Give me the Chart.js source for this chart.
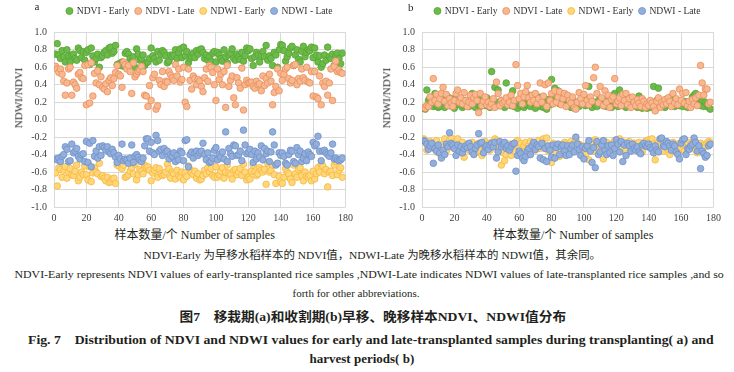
<!DOCTYPE html>
<html>
<head>
<meta charset="utf-8">
<script src="https://cdn.jsdelivr.net/npm/chart.js@4.4.1/dist/chart.umd.min.js"></script>
<style>
  body { margin: 0; background: #fff; width: 734px; height: 372px; position: relative; overflow: hidden; }
  canvas { position: absolute; top: 0; }
  .txt { position: absolute; white-space: nowrap; color: #231f20; line-height: 1; }
</style>
</head>
<body>
<canvas id="chartA" width="358" height="225" style="left:0px"></canvas>
<canvas id="chartB" width="358" height="225" style="left:368px"></canvas>
<script>
// series labels and axis ticks
const seriesNames = ["NDVI - Early", "NDVI - Late", "NDWI - Early", "NDWI - Late"];
const yTicks = [-1.0, -0.8, -0.6, -0.4, -0.2, 0.0, 0.2, 0.4, 0.6, 0.8, 1.0];
const xTicks = [0, 20, 40, 60, 80, 100, 120, 140, 160, 180];

// (a) transplanting period
const aNdviEarly = [
  0.75,0.87,0.74,0.70,0.79,0.72,0.66,0.80,0.73,0.66,
  0.74,0.75,0.70,0.68,0.82,0.79,0.71,0.78,0.68,0.77,
  0.80,0.63,0.82,0.73,0.66,0.70,0.75,0.60,0.71,0.73,
  0.77,0.79,0.74,0.82,0.83,0.76,0.78,0.85,0.63,0.64,
  0.62,0.66,0.61,0.76,0.78,0.75,0.70,0.66,0.72,0.60,
  0.81,0.75,0.68,0.70,0.74,0.62,0.65,0.66,0.70,0.82,
  0.73,0.70,0.66,0.78,0.68,0.75,0.79,0.77,0.73,0.65,
  0.67,0.74,0.72,0.74,0.80,0.70,0.77,0.81,0.71,0.83,
  0.73,0.78,0.65,0.70,0.72,0.76,0.71,0.79,0.75,0.80,
  0.81,0.77,0.70,0.74,0.68,0.72,0.67,0.76,0.78,0.66,
  0.77,0.74,0.70,0.67,0.80,0.72,0.65,0.74,0.76,0.81,
  0.70,0.68,0.75,0.72,0.69,0.77,0.67,0.73,0.82,0.79,
  0.81,0.70,0.62,0.72,0.77,0.74,0.66,0.73,0.78,0.72,
  0.85,0.68,0.73,0.70,0.62,0.77,0.74,0.60,0.80,0.86,
  0.85,0.79,0.67,0.72,0.76,0.82,0.84,0.62,0.74,0.80,
  0.69,0.66,0.78,0.84,0.72,0.77,0.80,0.79,0.83,0.71,
  0.82,0.74,0.66,0.73,0.60,0.64,0.74,0.68,0.83,0.72,
  0.70,0.75,0.62,0.73,0.76,0.70,0.64,0.76
];
const aNdviLate = [
  0.61,0.58,0.54,0.58,0.52,0.44,0.28,0.42,0.58,0.60,
  0.28,0.43,0.40,0.36,0.52,0.54,0.48,0.47,0.62,0.17,
  0.63,0.19,0.65,0.27,0.53,0.42,0.56,0.40,0.49,0.37,
  0.35,0.41,0.32,0.45,0.48,0.39,0.47,0.54,0.62,0.52,
  0.50,0.37,0.66,0.63,0.58,0.62,0.55,0.30,0.65,0.49,
  0.52,0.55,0.57,0.61,0.55,0.28,0.27,0.15,0.39,0.22,
  0.48,0.52,0.12,0.16,0.45,0.40,0.55,0.38,0.44,0.43,
  0.55,0.51,0.48,0.45,0.63,0.50,0.58,0.43,0.46,0.60,
  0.20,0.15,0.58,0.45,0.35,0.50,0.47,0.40,0.46,0.44,
  0.38,0.32,0.48,0.58,0.44,0.62,0.60,0.54,0.40,0.22,
  0.58,0.46,0.52,0.40,0.55,0.14,0.62,0.38,0.45,0.50,
  0.25,0.17,0.48,0.42,0.36,0.59,0.11,0.40,0.45,0.42,
  0.42,0.43,0.38,0.36,0.44,0.40,0.41,0.33,0.50,0.39,
  0.47,0.42,0.52,0.44,0.17,0.31,0.38,0.58,0.33,0.53,
  0.45,0.52,0.58,0.60,0.47,0.42,0.45,0.62,0.63,0.40,
  0.47,0.44,0.58,0.48,0.45,0.60,0.43,0.42,0.55,0.27,
  0.55,0.26,0.24,0.50,0.17,0.42,0.38,0.44,0.28,0.42,
  0.58,0.22,0.61,0.67,0.55,0.57,0.54,0.53
];
const aNdwiEarly = [
  -0.61,-0.76,-0.55,-0.57,-0.66,-0.58,-0.54,-0.67,-0.60,-0.56,
  -0.63,-0.64,-0.59,-0.52,-0.70,-0.66,-0.60,-0.63,-0.53,-0.63,
  -0.69,-0.54,-0.71,-0.61,-0.55,-0.60,-0.62,-0.50,-0.65,-0.64,
  -0.67,-0.70,-0.66,-0.72,-0.71,-0.68,-0.67,-0.73,-0.52,-0.53,
  -0.50,-0.56,-0.52,-0.66,-0.65,-0.63,-0.59,-0.55,-0.62,-0.51,
  -0.69,-0.63,-0.57,-0.59,-0.62,-0.52,-0.55,-0.54,-0.58,-0.70,
  -0.61,-0.58,-0.55,-0.66,-0.56,-0.62,-0.64,-0.63,-0.60,-0.51,
  -0.56,-0.67,-0.60,-0.62,-0.68,-0.58,-0.64,-0.66,-0.60,-0.69,
  -0.61,-0.65,-0.53,-0.57,-0.61,-0.63,-0.59,-0.67,-0.62,-0.69,
  -0.68,-0.64,-0.58,-0.62,-0.55,-0.60,-0.56,-0.64,-0.66,-0.54,
  -0.66,-0.63,-0.59,-0.55,-0.67,-0.60,-0.52,-0.61,-0.63,-0.68,
  -0.58,-0.57,-0.63,-0.60,-0.56,-0.64,-0.51,-0.60,-0.69,-0.66,
  -0.68,-0.59,-0.52,-0.60,-0.64,-0.62,-0.55,-0.58,-0.60,-0.57,
  -0.74,-0.50,-0.60,-0.58,-0.52,-0.63,-0.73,-0.50,-0.65,-0.71,
  -0.73,-0.66,-0.56,-0.60,-0.62,-0.68,-0.72,-0.52,-0.62,-0.66,
  -0.57,-0.55,-0.64,-0.70,-0.60,-0.65,-0.66,-0.64,-0.70,-0.59,
  -0.68,-0.62,-0.55,-0.60,-0.51,-0.53,-0.62,-0.57,-0.77,-0.60,
  -0.59,-0.64,-0.52,-0.48,-0.63,-0.58,-0.55,-0.66
];
const aNdwiLate = [
  -0.45,-0.46,-0.44,-0.48,-0.42,-0.40,-0.31,-0.34,-0.48,-0.47,
  -0.28,-0.38,-0.36,-0.33,-0.42,-0.45,-0.40,-0.39,-0.48,-0.25,
  -0.49,-0.27,-0.54,-0.24,-0.42,-0.36,-0.44,-0.31,-0.41,-0.30,
  -0.32,-0.35,-0.31,-0.37,-0.39,-0.34,-0.38,-0.43,-0.49,-0.41,
  -0.45,-0.28,-0.47,-0.45,-0.46,-0.50,-0.44,-0.29,-0.49,-0.42,
  -0.40,-0.43,-0.46,-0.48,-0.44,-0.30,-0.22,-0.22,-0.36,-0.26,
  -0.38,-0.40,-0.18,-0.24,-0.36,-0.34,-0.41,-0.33,-0.37,-0.36,
  -0.45,-0.40,-0.42,-0.38,-0.48,-0.41,-0.46,-0.36,-0.38,-0.47,
  -0.24,-0.23,-0.54,-0.40,-0.37,-0.44,-0.38,-0.36,-0.41,-0.38,
  -0.36,-0.27,-0.40,-0.46,-0.38,-0.49,-0.48,-0.44,-0.35,-0.32,
  -0.46,-0.40,-0.43,-0.37,-0.45,-0.14,-0.48,-0.33,-0.39,-0.42,
  -0.29,-0.30,-0.41,-0.40,-0.36,-0.47,-0.12,-0.29,-0.39,-0.37,
  -0.34,-0.40,-0.49,-0.36,-0.45,-0.38,-0.43,-0.30,-0.46,-0.33,
  -0.39,-0.36,-0.48,-0.37,-0.14,-0.29,-0.52,-0.50,-0.38,-0.41,
  -0.38,-0.42,-0.50,-0.52,-0.40,-0.35,-0.36,-0.48,-0.50,-0.32,
  -0.40,-0.36,-0.48,-0.44,-0.39,-0.47,-0.37,-0.40,-0.42,-0.26,
  -0.30,-0.28,-0.19,-0.36,-0.47,-0.36,-0.35,-0.38,-0.40,-0.42,
  -0.38,-0.28,-0.45,-0.44,-0.46,-0.47,-0.46,-0.44
];

// (b) harvest period
const bNdviEarly = [
  0.13,0.12,0.34,0.22,0.25,0.18,0.15,0.30,0.16,0.14,
  0.15,0.22,0.28,0.14,0.19,0.26,0.16,0.24,0.15,0.13,
  0.20,0.25,0.17,0.23,0.14,0.16,0.22,0.18,0.15,0.20,
  0.30,0.21,0.14,0.26,0.18,0.15,0.22,0.19,0.16,0.25,
  0.17,0.14,0.55,0.15,0.37,0.20,0.34,0.16,0.22,0.18,
  0.14,0.42,0.19,0.25,0.16,0.33,0.15,0.20,0.13,0.18,
  0.16,0.22,0.14,0.19,0.17,0.28,0.15,0.24,0.20,0.13,
  0.18,0.26,0.15,0.21,0.14,0.19,0.12,0.23,0.17,0.46,
  0.25,0.36,0.20,0.33,0.18,0.30,0.22,0.28,0.16,0.25,
  0.19,0.14,0.23,0.13,0.20,0.17,0.15,0.22,0.18,0.21,
  0.16,0.24,0.38,0.19,0.14,0.20,0.17,0.15,0.22,0.19,
  0.24,0.16,0.21,0.15,0.18,0.23,0.14,0.20,0.30,0.17,
  0.15,0.34,0.19,0.16,0.22,0.14,0.18,0.25,0.15,0.21,
  0.17,0.20,0.14,0.27,0.16,0.13,0.19,0.15,0.13,0.18,
  0.14,0.16,0.38,0.12,0.22,0.36,0.21,0.15,0.19,0.14,
  0.23,0.17,0.20,0.26,0.24,0.15,0.19,0.22,0.16,0.20,
  0.15,0.21,0.18,0.14,0.20,0.17,0.26,0.28,0.30,0.22,
  0.18,0.16,0.22,0.15,0.20,0.17,0.14,0.12
];
const bNdviLate = [
  0.14,0.13,0.16,0.15,0.26,0.20,0.47,0.22,0.29,0.18,
  0.24,0.30,0.37,0.21,0.29,0.16,0.24,0.19,0.15,0.22,
  0.30,0.34,0.20,0.25,0.18,0.31,0.22,0.15,0.20,0.28,
  0.18,0.25,0.29,0.22,0.08,0.30,0.16,0.21,0.26,0.17,
  0.20,0.15,0.18,0.24,0.14,0.43,0.30,0.16,0.22,0.19,
  0.21,0.25,0.17,0.20,0.28,0.16,0.22,0.63,0.39,0.24,
  0.30,0.18,0.26,0.32,0.39,0.25,0.20,0.28,0.22,0.30,
  0.18,0.24,0.42,0.20,0.27,0.40,0.15,0.42,0.22,0.30,
  0.18,0.33,0.20,0.26,0.32,0.17,0.24,0.30,0.15,0.28,
  0.22,0.19,0.26,0.14,0.12,0.20,0.31,0.24,0.18,0.29,
  0.39,0.22,0.17,0.26,0.21,0.48,0.60,0.30,0.19,0.38,
  0.25,0.16,0.33,0.20,0.28,0.14,0.23,0.26,0.47,0.18,
  0.21,0.25,0.16,0.29,0.22,0.30,0.17,0.24,0.14,0.26,
  0.20,0.16,0.23,0.19,0.15,0.24,0.21,0.14,0.18,0.16,
  0.22,0.19,0.15,0.10,0.21,0.25,0.14,0.20,0.17,0.23,
  0.18,0.25,0.21,0.15,0.30,0.19,0.24,0.17,0.35,0.22,
  0.30,0.19,0.31,0.16,0.21,0.14,0.23,0.18,0.25,0.16,
  0.28,0.62,0.42,0.28,0.35,0.35,0.18,0.20
];
const bNdwiEarly = [
  -0.22,-0.26,-0.35,-0.29,-0.25,-0.31,-0.27,-0.34,-0.24,-0.38,
  -0.33,-0.40,-0.28,-0.22,-0.36,-0.30,-0.24,-0.21,-0.32,-0.27,
  -0.34,-0.22,-0.30,-0.37,-0.26,-0.43,-0.31,-0.28,-0.35,-0.30,
  -0.26,-0.32,-0.38,-0.29,-0.27,-0.36,-0.41,-0.30,-0.25,-0.33,
  -0.28,-0.35,-0.26,-0.31,-0.22,-0.24,-0.34,-0.29,-0.52,-0.38,
  -0.47,-0.40,-0.33,-0.28,-0.41,-0.30,-0.36,-0.26,-0.24,-0.32,
  -0.27,-0.38,-0.30,-0.26,-0.34,-0.29,-0.25,-0.31,-0.27,-0.35,
  -0.29,-0.24,-0.33,-0.28,-0.22,-0.30,-0.21,-0.36,-0.31,-0.49,
  -0.27,-0.34,-0.38,-0.30,-0.42,-0.29,-0.33,-0.26,-0.36,-0.28,
  -0.30,-0.25,-0.35,-0.27,-0.23,-0.32,-0.28,-0.37,-0.30,-0.33,
  -0.40,-0.29,-0.46,-0.31,-0.25,-0.36,-0.23,-0.28,-0.34,-0.27,
  -0.32,-0.45,-0.30,-0.26,-0.38,-0.29,-0.33,-0.27,-0.24,-0.31,
  -0.35,-0.22,-0.29,-0.32,-0.26,-0.36,-0.28,-0.25,-0.33,-0.30,
  -0.27,-0.34,-0.29,-0.26,-0.31,-0.37,-0.28,-0.25,-0.30,-0.23,
  -0.24,-0.22,-0.28,-0.46,-0.30,-0.26,-0.33,-0.29,-0.36,-0.27,
  -0.31,-0.34,-0.40,-0.28,-0.26,-0.35,-0.30,-0.38,-0.27,-0.32,
  -0.29,-0.36,-0.30,-0.26,-0.33,-0.28,-0.31,-0.24,-0.35,-0.38,
  -0.30,-0.27,-0.33,-0.29,-0.31,-0.27,-0.25,-0.26
];
const bNdwiLate = [
  -0.24,-0.25,-0.28,-0.34,-0.30,-0.27,-0.50,-0.33,-0.36,-0.29,
  -0.38,-0.44,-0.35,-0.40,-0.28,-0.31,-0.15,-0.27,-0.29,-0.33,
  -0.41,-0.29,-0.36,-0.31,-0.38,-0.33,-0.30,-0.32,-0.27,-0.31,
  -0.37,-0.40,-0.33,-0.29,-0.16,-0.27,-0.26,-0.38,-0.31,-0.30,
  -0.34,-0.29,-0.27,-0.31,-0.26,-0.44,-0.37,-0.25,-0.31,-0.28,
  -0.26,-0.33,-0.30,-0.35,-0.31,-0.28,-0.27,-0.59,-0.41,-0.36,
  -0.39,-0.44,-0.47,-0.42,-0.36,-0.33,-0.40,-0.30,-0.26,-0.34,
  -0.29,-0.31,-0.44,-0.27,-0.46,-0.33,-0.48,-0.30,-0.35,-0.43,
  -0.29,-0.44,-0.32,-0.28,-0.40,-0.31,-0.29,-0.36,-0.41,-0.30,
  -0.40,-0.33,-0.29,-0.37,-0.20,-0.28,-0.34,-0.41,-0.31,-0.45,
  -0.33,-0.30,-0.24,-0.36,-0.49,-0.32,-0.55,-0.25,-0.40,-0.37,
  -0.29,-0.24,-0.35,-0.40,-0.30,-0.38,-0.29,-0.41,-0.33,-0.23,
  -0.28,-0.37,-0.25,-0.48,-0.29,-0.41,-0.27,-0.30,-0.36,-0.28,
  -0.33,-0.35,-0.31,-0.37,-0.39,-0.29,-0.27,-0.30,-0.31,-0.28,
  -0.32,-0.34,-0.38,-0.30,-0.35,-0.37,-0.22,-0.21,-0.30,-0.31,
  -0.25,-0.27,-0.30,-0.35,-0.28,-0.30,-0.37,-0.40,-0.45,-0.27,
  -0.23,-0.22,-0.40,-0.33,-0.34,-0.30,-0.28,-0.21,-0.26,-0.36,
  -0.30,-0.56,-0.36,-0.39,-0.43,-0.41,-0.30,-0.28
];

const fills = ["#6cba4a", "#f6b891", "#ffd67a", "#93aedb"];
const borders = ["#58a536", "#ec8d58", "#f5b83c", "#6f92c9"];

function toPoints(values) {
  return values.map(function (v, i) { return { x: i + 1, y: v }; });
}

// push the plot area down below the one-row legend
const legendGap = {
  id: "legendGap",
  beforeInit: function (chart) {
    const fit = chart.legend.fit;
    chart.legend.fit = function () {
      fit.call(this);
      this.height += 6.5;
    };
  },
};

function makeChart(id, series) {
  const ctx = document.getElementById(id).getContext("2d");
  return new Chart(ctx, {
    type: "scatter",
    data: {
      datasets: series.map(function (values, i) {
        return {
          label: seriesNames[i],
          data: toPoints(values),
          backgroundColor: fills[i],
          borderColor: borders[i],
          borderWidth: 0.8,
          pointRadius: 3.3,
          pointStyle: "circle",
          order: 4 - i,
        };
      }),
    },
    plugins: [legendGap],
    options: {
      responsive: false,
      animation: false,
      layout: { padding: 0 },
      plugins: {
        tooltip: { enabled: false },
        legend: {
          position: "top",
          fullSize: false,
          labels: {
            usePointStyle: true,
            boxWidth: 5,
            boxHeight: 5,
            padding: 6.2,
            color: "#333",
            font: { family: "Liberation Serif", size: 9.6 },
            sort: function (a, b) { return a.datasetIndex - b.datasetIndex; },
          },
        },
      },
      scales: {
        x: {
          type: "linear",
          min: 0,
          max: 180,
          afterBuildTicks: function (s) { s.ticks = xTicks.map(function (v) { return { value: v }; }); },
          afterFit: function (s) { s.height = 18; },
          grid: { color: "#d9d9d9", drawTicks: false },
          border: { display: false },
          ticks: { padding: 5, color: "#404040", font: { family: "Liberation Serif", size: 10 } },
        },
        y: {
          min: -1,
          max: 1,
          afterBuildTicks: function (s) { s.ticks = yTicks.map(function (v) { return { value: v }; }); },
          afterFit: function (s) { s.width = 54; },
          grid: { color: "#d9d9d9", drawTicks: false },
          border: { display: false },
          ticks: {
            padding: 7,
            color: "#404040",
            font: { family: "Liberation Serif", size: 10 },
            callback: function (v) { return Number(v).toFixed(1); },
          },
        },
      },
    },
  });
}

makeChart("chartA", [aNdviEarly, aNdviLate, aNdwiEarly, aNdwiLate]);
makeChart("chartB", [bNdviEarly, bNdviLate, bNdwiEarly, bNdwiLate]);

// text around the charts
function addText(text, cx, cy, font, width, rotate) {
  const d = document.createElement("div");
  d.className = "txt";
  d.textContent = text;
  d.style.font = font;
  document.body.appendChild(d);
  const w = d.offsetWidth;
  const h = d.offsetHeight;
  d.style.left = (cx - w / 2) + "px";
  d.style.top = (cy - h / 2) + "px";
  let t = "";
  if (rotate) t += "rotate(-90deg) ";
  if (width) t += "scaleX(" + (width / w) + ")";
  d.style.transform = t;
}

const serif = '"Liberation Serif", "Noto Sans CJK SC", serif';
addText("a", 37, 6, "11px " + serif);
addText("b", 411, 7, "11px " + serif);
addText("NDWI/NDVI", 18, 97.5, "11px " + serif, 0, true);
addText("NDWI/NDVI", 386, 97.5, "11px " + serif, 0, true);
addText("样本数量/个 Number of samples", 194.5, 234, "12px " + serif);
addText("样本数量/个 Number of samples", 573, 234, "12px " + serif);

addText("NDVI-Early 为早移水稻样本的 NDVI值，NDWI-Late 为晚移水稻样本的 NDWI值，其余同。", 372, 254, "11px " + serif, 458);
addText("NDVI-Early represents NDVI values of early-transplanted rice samples ,NDWI-Late indicates NDWI values of late-transplanted rice samples ,and so", 368.5, 274, "11px " + serif, 709);
addText("forth for other abbreviations.", 356, 293, "11px " + serif, 0);
addText("图7　移栽期(a)和收割期(b)早移、晚移样本NDVI、NDWI值分布", 372.5, 315, "bold 13px " + serif, 387);
addText("Fig. 7　Distribution of NDVI and NDWI values for early and late-transplanted samples during transplanting( a) and", 371, 338, "bold 13px " + serif, 686);
addText("harvest periods( b)", 362, 359, "bold 13px " + serif, 0);
</script>
</body>
</html>
